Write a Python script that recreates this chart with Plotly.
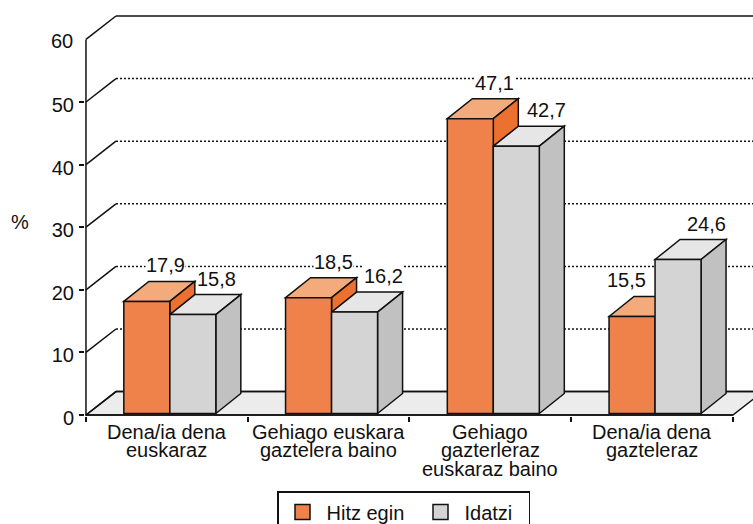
import plotly.graph_objects as go

CATEGORY_LINES = [
    ["Dena/ia dena", "euskaraz"],
    ["Gehiago euskara", "gaztelera baino"],
    ["Gehiago", "gazterleraz", "euskaraz baino"],
    ["Dena/ia dena", "gazteleraz"],
]
SERIES_NAMES = ["Hitz egin", "Idatzi"]
HITZ_EGIN = [17.9, 18.5, 47.1, 15.5]
IDATZI = [15.8, 16.2, 42.7, 24.6]
Y_TICKS = [0, 10, 20, 30, 40, 50, 60]

FONT = "Liberation Sans"
FONT_SIZE = 20
INK = "#111111"

# fake 3d depth, in axis units
WALL_DX, WALL_DY = 0.1855, 3.74
BAR_DX, BAR_DY = 0.1546, 3.2
BAR_WIDTH = 0.2844
BAR_LEFT = -0.266
BAR_BASE = 0.24

FACES = [
    {"front": "#EE824A", "top": "#F4AB7B", "side": "#EC7030"},
    {"front": "#D4D4D4", "top": "#E6E6E6", "side": "#C1C1C1"},
]

x_left = -0.5
x_right = x_left + 4
x_idx = list(range(len(CATEGORY_LINES)))
categories = [" ".join(lines) + f" {i}" for i, lines in enumerate(CATEGORY_LINES)]


def polygon(points, fill):
    path = "M " + " L ".join(f"{x},{y}" for x, y in points) + " Z"
    return dict(type="path", path=path, xref="x", yref="y", layer="below",
                fillcolor=fill, line=dict(color=INK, width=1.5))


def segment(x0, y0, x1, y1, dash="solid"):
    return dict(type="line", x0=x0, y0=y0, x1=x1, y1=y1, xref="x", yref="y",
                layer="below", line=dict(color=INK, width=1.5, dash=dash))


shapes = []

# floor first, everything else sits on it
shapes.append(polygon([(x_left, 0), (x_left + WALL_DX, WALL_DY),
                       (x_right + WALL_DX, WALL_DY), (x_right, 0)], "#ECECEC"))

for tick in Y_TICKS:
    shapes.append(segment(x_left, tick, x_left + WALL_DX, tick + WALL_DY))
    dash = "solid" if tick in (Y_TICKS[0], Y_TICKS[-1]) else "2px,2px"
    shapes.append(segment(x_left + WALL_DX, tick + WALL_DY,
                          x_right + WALL_DX, tick + WALL_DY, dash))

shapes.append(segment(x_left, 0, x_left, Y_TICKS[-1]))
shapes.append(segment(x_left, 0, x_right, 0))

for i in x_idx:
    for s, values in enumerate([HITZ_EGIN, IDATZI]):
        x0 = i + BAR_LEFT + s * BAR_WIDTH
        x1 = x0 + BAR_WIDTH
        y0 = BAR_BASE
        y1 = values[i] + BAR_BASE
        shapes.append(polygon([(x0, y1), (x0 + BAR_DX, y1 + BAR_DY),
                               (x1 + BAR_DX, y1 + BAR_DY), (x1, y1)], FACES[s]["top"]))
        shapes.append(polygon([(x1, y0), (x1 + BAR_DX, y0 + BAR_DY),
                               (x1 + BAR_DX, y1 + BAR_DY), (x1, y1)], FACES[s]["side"]))

fig = go.Figure()

legend_widths = [85, 59]
for s, values in enumerate([HITZ_EGIN, IDATZI]):
    fig.add_trace(go.Bar(
        x=categories,
        y=values,
        base=BAR_BASE,
        width=BAR_WIDTH,
        offset=BAR_LEFT + s * BAR_WIDTH,
        marker=dict(color=FACES[s]["front"], line=dict(color=INK, width=1.5)),
        showlegend=False,
    ))
    # plotly's bar swatch is too small for this legend
    fig.add_trace(go.Scatter(
        x=[None], y=[None], mode="markers", name=SERIES_NAMES[s],
        legendwidth=legend_widths[s],
        marker=dict(symbol="square", size=15, color=FACES[s]["front"],
                    line=dict(color=INK, width=1.5)),
    ))

annotations = []

label_xshift = [[19, 24], [25, 29], [24, 30], [-6, 28]]
for i in x_idx:
    for s, values in enumerate([HITZ_EGIN, IDATZI]):
        annotations.append(dict(
            x=i + BAR_LEFT + s * BAR_WIDTH + BAR_WIDTH / 2,
            y=values[i] + BAR_BASE,
            xref="x", yref="y", showarrow=False,
            text=f"{values[i]:.1f}".replace(".", ","),
            xshift=label_xshift[i][s], yshift=36,
            bgcolor="white", borderpad=0,
            font=dict(family=FONT, size=FONT_SIZE, color=INK),
        ))

# separate annotations: <br> in plotly spaces lines too far apart for this chart
for i, lines in enumerate(CATEGORY_LINES):
    for n, line in enumerate(lines):
        annotations.append(dict(
            x=i, y=0, xref="x", yref="y", showarrow=False,
            text=line, yshift=-17 - 18.4 * n,
            font=dict(family=FONT, size=FONT_SIZE, color=INK),
        ))

annotations.append(dict(
    x=(20 - 85) / 668, y=(416 - 222) / 406, xref="paper", yref="paper",
    xanchor="center", yanchor="middle", showarrow=False, text="%",
    font=dict(family=FONT, size=FONT_SIZE, color=INK),
))

# the top value has no tick mark, so its label sits outside the axis ticks
annotations.append(dict(
    x=(75 - 85) / 668, y=Y_TICKS[-1], xref="paper", yref="y",
    xanchor="right", yanchor="middle", yshift=-2, showarrow=False,
    text=str(Y_TICKS[-1]),
    font=dict(family=FONT, size=FONT_SIZE, color=INK),
))

fig.update_layout(
    width=753,
    height=524,
    margin=dict(l=85, r=0, t=10, b=108, autoexpand=False),
    paper_bgcolor="white",
    plot_bgcolor="rgba(0,0,0,0)",
    font=dict(family=FONT, size=FONT_SIZE, color=INK),
    shapes=shapes,
    annotations=annotations,
    hovermode=False,
    legend=dict(
        orientation="h",
        x=(277 - 85) / 668,
        y=(416 - 491) / 406,
        xanchor="left",
        yanchor="top",
        bordercolor=INK,
        borderwidth=1.5,
        bgcolor="white",
        font=dict(family=FONT, size=FONT_SIZE, color=INK),
        itemwidth=38,
        traceorder="normal",
    ),
    xaxis=dict(
        type="category",
        categoryorder="array",
        categoryarray=categories,
        range=[-0.506, 3.624],
        tickson="boundaries",
        ticks="outside",
        ticklen=5,
        tickwidth=1.5,
        tickcolor=INK,
        showticklabels=False,
        showgrid=False,
        showline=False,
        zeroline=False,
    ),
    yaxis=dict(
        range=[-0.16, 64.7],
        tickvals=Y_TICKS[:-1],
        ticks="outside",
        ticklen=5,
        tickwidth=1.5,
        tickcolor=INK,
        ticklabelstandoff=1,
        ticklabelshift=3,
        showgrid=False,
        showline=False,
        zeroline=False,
        tickfont=dict(family=FONT, size=FONT_SIZE, color=INK),
    ),
)

# the page's default 8px body margin would push the chart off its measured position
fig.write_html("out.html", config={"displayModeBar": False},
               post_script="document.body.style.margin = '0';")
